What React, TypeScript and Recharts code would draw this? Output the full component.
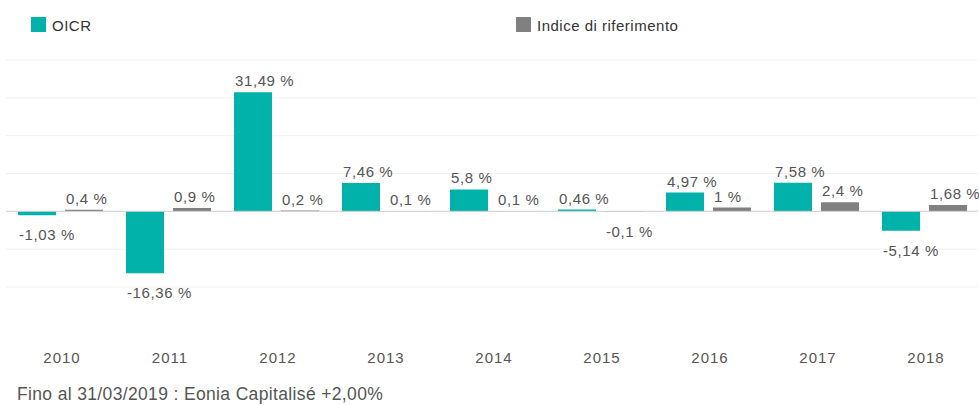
import {
	BarChart,
	Bar,
	XAxis,
	YAxis,
	CartesianGrid,
	ReferenceLine,
	LabelList,
} from "recharts";

const years = ["2010", "2011", "2012", "2013", "2014", "2015", "2016", "2017", "2018"];
const oicr = [-1.03, -16.36, 31.49, 7.46, 5.8, 0.46, 4.97, 7.58, -5.14];
const benchmark = [0.4, 0.9, 0.2, 0.1, 0.1, -0.1, 1, 2.4, 1.68];
const yTicks = [-20, -10, 0, 10, 20, 30, 40];

const TEAL = "#00b2a9";
const GREY = "#808080";
const FONT = "'Liberation Sans', Arial, sans-serif";

const data = years.map((year, i) => ({
	year,
	oicr: oicr[i],
	benchmark: benchmark[i],
}));

const fmt = (v: number) => `${String(v).replace(".", ",")} %`;

function ValueLabel(props: any) {
	const { x, y, height, value } = props;
	const top = Math.min(y, y + height);
	const bottom = Math.max(y, y + height);
	const ty = value < 0 ? bottom + 25 : top - 6;
	return (
		<text
			x={x + 1}
			y={ty}
			fill="#555"
			fontSize={15}
			letterSpacing={0.6}
			fontFamily={FONT}>
			{fmt(value)}
		</text>
	);
}

function LegendItem({ left, color, label }: { left: number; color: string; label: string }) {
	return (
		<div style={{ position: "absolute", left, top: 17, display: "flex", alignItems: "flex-start" }}>
			<div style={{ width: 15, height: 15, background: color }} />
			<div
				style={{
					marginLeft: 6,
					marginTop: 1,
					fontSize: 15,
					lineHeight: "15px",
					color: "#333",
					letterSpacing: 0.5,
				}}>
				{label}
			</div>
		</div>
	);
}

export default function App() {
	return (
		<div
			style={{
				position: "absolute",
				left: 0,
				top: 0,
				width: 979,
				height: 405,
				fontFamily: FONT,
				background: "#fff",
			}}>
			<LegendItem left={31} color={TEAL} label="OICR" />
			<LegendItem left={516} color={GREY} label="Indice di riferimento" />
			<BarChart
				width={979}
				height={405}
				data={data}
				margin={{ top: 60, right: 1, bottom: 0, left: 6 }}
				barSize={38}
				barGap={9}>
				<CartesianGrid vertical={false} stroke="#f0f0f0" />
				<YAxis hide domain={[-20, 40]} ticks={yTicks} />
				<XAxis
					dataKey="year"
					axisLine={false}
					tickLine={false}
					tickSize={0}
					tickMargin={65}
					height={118}
					interval={0}
					tick={{ fill: "#555", fontSize: 15, dx: 2, letterSpacing: 1, fontFamily: FONT }}
				/>
				<ReferenceLine y={0} stroke="#d0d0d0" />
				<Bar dataKey="oicr" fill={TEAL} isAnimationActive={false}>
					<LabelList dataKey="oicr" content={ValueLabel} />
				</Bar>
				<Bar dataKey="benchmark" fill={GREY} isAnimationActive={false}>
					<LabelList dataKey="benchmark" content={ValueLabel} />
				</Bar>
			</BarChart>
			<div
				style={{
					position: "absolute",
					left: 17,
					top: 385,
					fontSize: 17.5,
					lineHeight: "18px",
					letterSpacing: 0.35,
					color: "#555",
					whiteSpace: "nowrap",
				}}>
				Fino al 31/03/2019 : Eonia Capitalisé +2,00%
			</div>
		</div>
	);
}
